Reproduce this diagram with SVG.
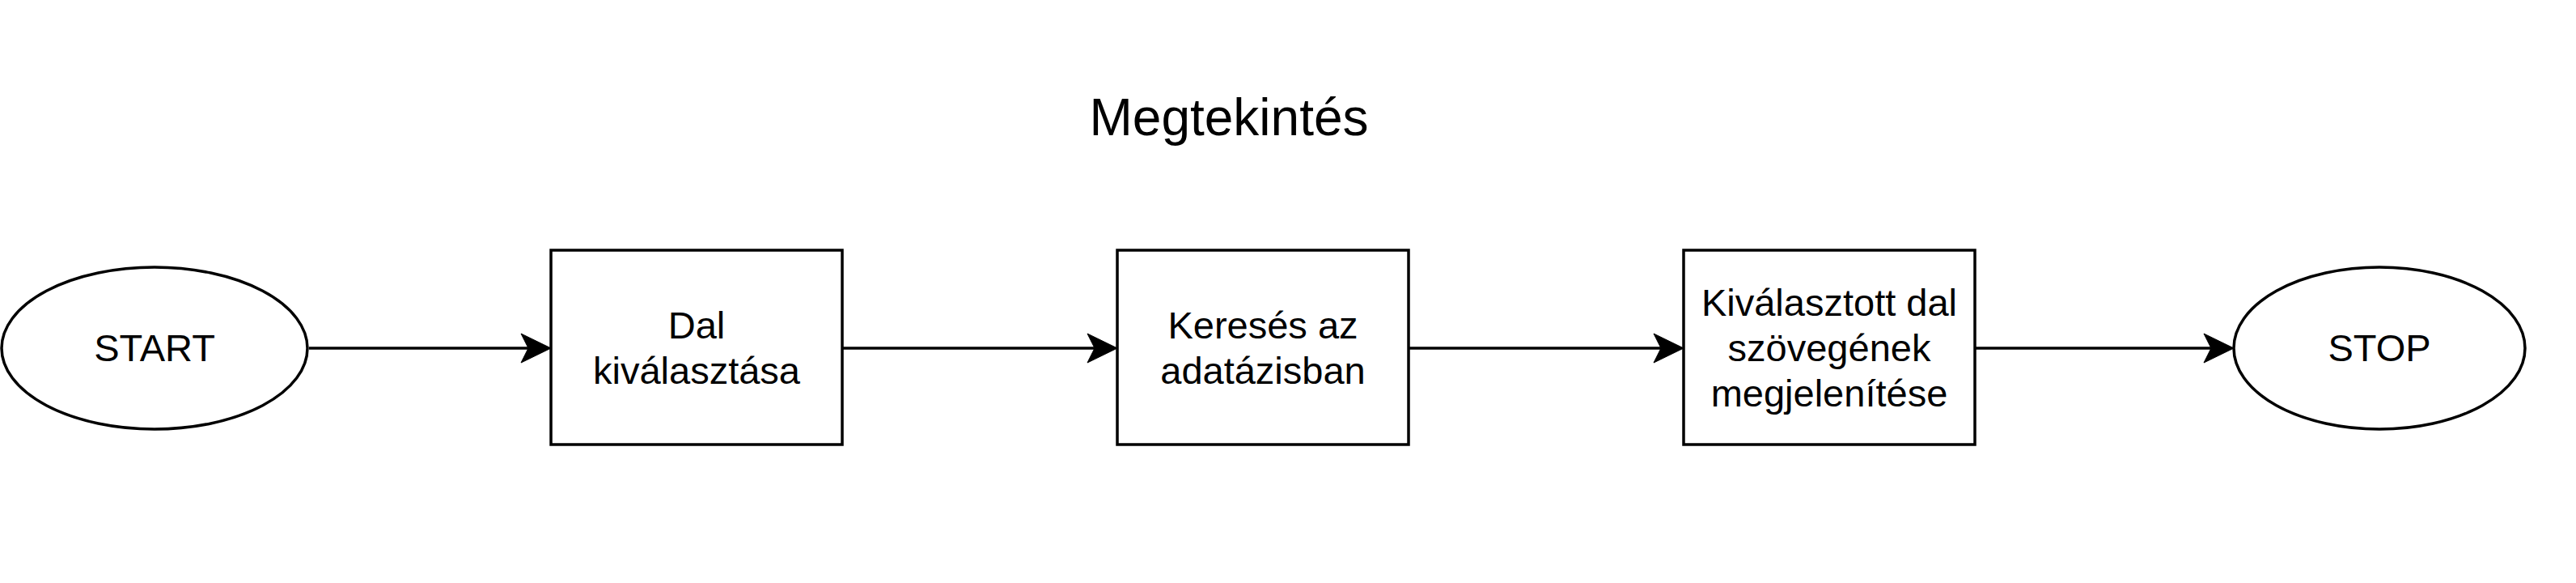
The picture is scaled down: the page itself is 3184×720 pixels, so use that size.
<svg xmlns="http://www.w3.org/2000/svg" width="3184" height="720" viewBox="0 0 3184 720">
<style>
.shape{fill:#ffffff;stroke:#000000;stroke-width:3.5}
.edge{fill:none;stroke:#000000;stroke-width:3.5}
.lbl{font-family:"Liberation Sans",Arial,Helvetica,sans-serif;font-size:47px;fill:#000000;text-anchor:middle}
.title{font-family:"Liberation Sans",Arial,Helvetica,sans-serif;font-size:64px;fill:#000000;text-anchor:middle}
</style>
<defs>
<marker id="arrow" markerUnits="userSpaceOnUse" markerWidth="40" markerHeight="40" viewBox="-38 -20 40 40" refX="-26" refY="0" orient="auto" overflow="visible">
<path d="M0,0 L-37,-18 L-28,0 L-37,18 Z" fill="#000000" stroke="#000000" stroke-width="1"/>
</marker>
</defs>
<rect width="3184" height="720" fill="#ffffff"/>
<g id="title"><text class="title" x="1519" y="167">Megtekintés</text></g>
<g id="connectors">
<path class="edge" d="M382,430 L655,430" marker-end="url(#arrow)"/>
<path class="edge" d="M1041,430 L1355,430" marker-end="url(#arrow)"/>
<path class="edge" d="M1741,430 L2055,430" marker-end="url(#arrow)"/>
<path class="edge" d="M2441,430 L2735,430" marker-end="url(#arrow)"/>
</g>
<g id="start">
<ellipse class="shape" cx="191" cy="430" rx="189" ry="100"/>
<text class="lbl" x="191" y="446">START</text>
</g>
<g id="dal-kivalasztasa">
<rect class="shape" x="681" y="309" width="360" height="240"/>
<text class="lbl" x="861" y="418">Dal</text>
<text class="lbl" x="861" y="474">kiválasztása</text>
</g>
<g id="kereses">
<rect class="shape" x="1381" y="309" width="360" height="240"/>
<text class="lbl" x="1561" y="418">Keresés az</text>
<text class="lbl" x="1561" y="474">adatázisban</text>
</g>
<g id="megjelenites">
<rect class="shape" x="2081" y="309" width="360" height="240"/>
<text class="lbl" x="2261" y="390">Kiválasztott dal</text>
<text class="lbl" x="2261" y="446">szövegének</text>
<text class="lbl" x="2261" y="502">megjelenítése</text>
</g>
<g id="stop">
<ellipse class="shape" cx="2941" cy="430" rx="180" ry="100"/>
<text class="lbl" x="2941" y="446">STOP</text>
</g>
</svg>
